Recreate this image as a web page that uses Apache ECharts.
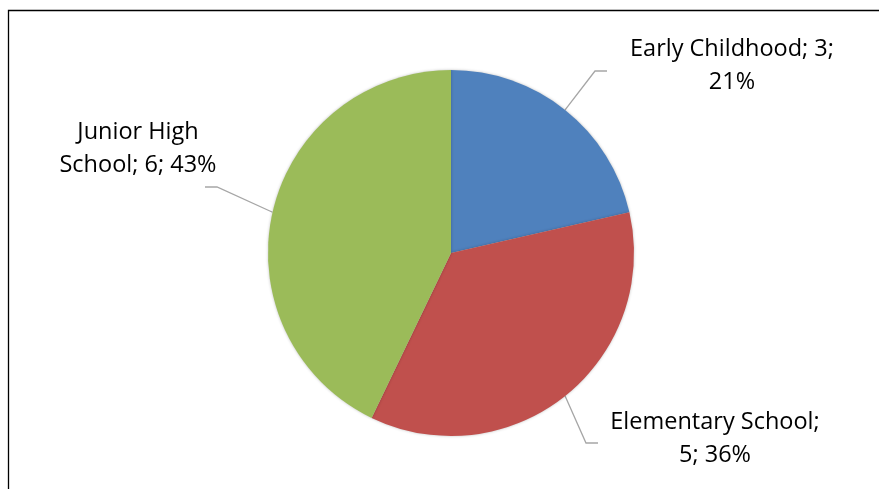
<!DOCTYPE html>
<html>
<head>
<meta charset="utf-8">
<script src="https://cdn.jsdelivr.net/npm/echarts@6/dist/echarts.min.js"></script>
<style>
html,body{margin:0;padding:0;background:#fff;}
#chart{width:879px;height:489px;}
</style>
</head>
<body>
<div id="chart"></div>
<script>
const categories = ['Early Childhood', 'Elementary School', 'Junior High School'];
const values = [3, 5, 6];
const colors = ['#4F81BD', '#C0504D', '#9BBB59'];
// number of words on the first line of each data label
const labelBreakAfter = [3, 2, 2];

// label layout (text block centre, leader elbow, leader end)
const labelPos = [
  { x: 732, y: 65.5, elbow: [595, 71], end: [607, 71] },
  { x: 715, y: 438.5, elbow: [586, 443], end: [598, 443] },
  { x: 138, y: 148.5, elbow: [217, 187], end: [205, 187] }
];

const chart = echarts.init(document.getElementById('chart'));
chart.setOption({
  animation: false,
  backgroundColor: '#ffffff',
  graphic: [{
    type: 'rect',
    shape: { x: 8.5, y: 10.5, width: 2000, height: 2000 },
    style: { fill: 'none', stroke: '#000', lineWidth: 1.3 },
    silent: true
  }],
  series: [{
    type: 'pie',
    center: [451, 253],
    radius: 183,
    startAngle: 90,
    clockwise: true,
    percentPrecision: 0,
    data: categories.map((c, i) => ({
      name: c,
      value: values[i],
      itemStyle: { color: colors[i] }
    })),
    itemStyle: {
      borderWidth: 0,
      shadowBlur: 3,
      shadowColor: 'rgba(0,0,0,0.25)'
    },
    emphasis: { disabled: true },
    label: {
      show: true,
      position: 'outside',
      formatter: function (p) {
        const words = (p.name + '; ' + p.value + '; ' + p.percent + '%').split(' ');
        const n = labelBreakAfter[p.dataIndex];
        return words.slice(0, n).join(' ') + '\n' + words.slice(n).join(' ');
      },
      fontFamily: 'Open Sans',
      fontSize: 23.5,
      lineHeight: 33,
      color: '#000',
      align: 'center'
    },
    labelLine: {
      show: true,
      lineStyle: { color: '#A6A6A6', width: 1.3 }
    },
    labelLayout: function (params) {
      const p = labelPos[params.dataIndex];
      const start = params.labelLinePoints ? params.labelLinePoints[0] : p.elbow;
      return {
        x: p.x,
        y: p.y,
        align: 'center',
        verticalAlign: 'middle',
        labelLinePoints: [start, p.elbow, p.end]
      };
    }
  }]
});
</script>
</body>
</html>
